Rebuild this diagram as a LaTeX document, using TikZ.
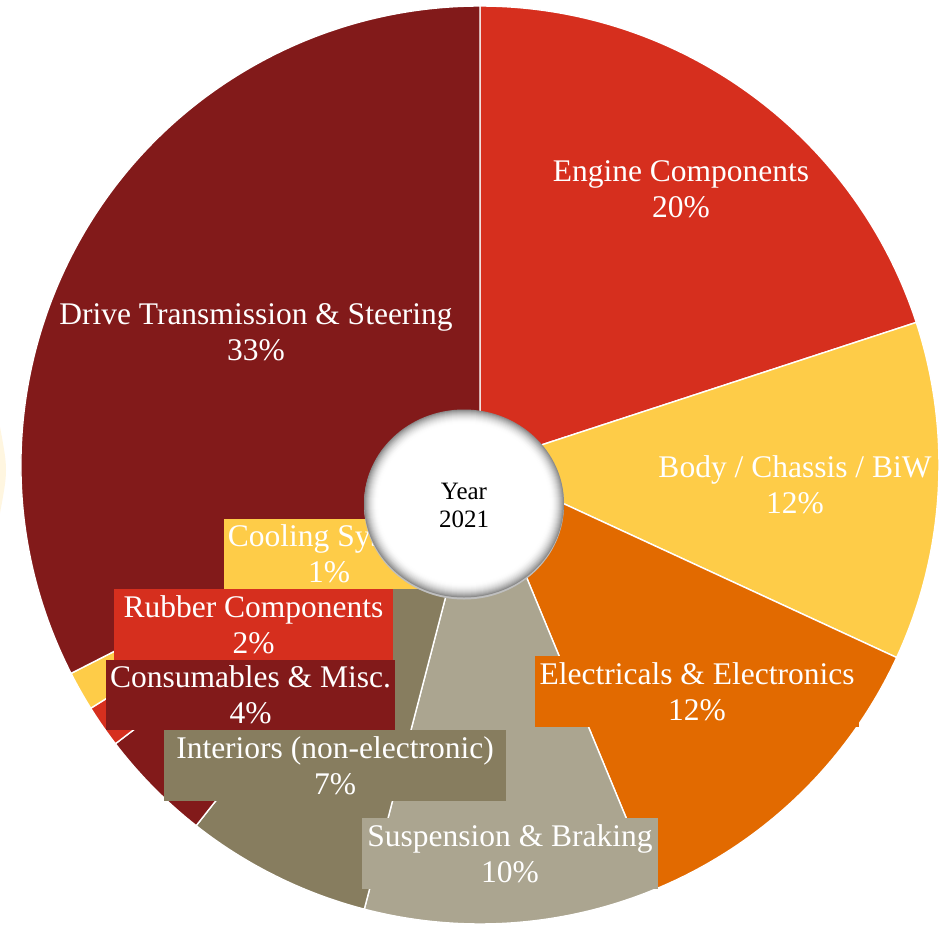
\documentclass[tikz,border=0pt]{standalone}
\usepackage{fontspec}
\setmainfont{Liberation Serif}
\usetikzlibrary{calc}
\definecolor{cDrive}{HTML}{821A1A}
\definecolor{cEngine}{HTML}{D62F1E}
\definecolor{cYellow}{HTML}{FECC48}
\definecolor{cOrange}{HTML}{E26A00}
\definecolor{cSusp}{HTML}{ABA590}
\definecolor{cInter}{HTML}{877D5F}
\definecolor{cCream}{HTML}{FFF6E0}
\newcommand\mkslice[3]{\filldraw[slice, fill=#1] (C) -- ($(C)+(#2:\R)$) arc[start angle=#2, end angle=#3, radius=\R] -- cycle;}
\tikzset{
  slice/.style={draw=white, line width=1.4pt, line join=round},
  lbl/.style={text=white, align=center, font=\fontsize{31.5}{36}\selectfont, inner sep=0pt},
  boxlbl/.style={lbl, minimum height=71pt}
}
\begin{document}
\begin{tikzpicture}[x=1pt,y=-1pt]
\path[use as bounding box, fill=white] (0,0) rectangle (947,924);
\coordinate (C) at (480,465);
\def\R{459}
% faint shape at the left edge
\fill[cCream] (0,427) .. controls (8,470) .. (0,513) -- cycle;
% slices (angles in flipped coordinates)
\mkslice{cEngine}{-90}{-18.1}
\mkslice{cYellow}{-18.1}{24.8}
\mkslice{cOrange}{24.8}{67.5}
\mkslice{cSusp}{67.5}{104.6}
\mkslice{cInter}{104.6}{128.2}
\mkslice{cDrive}{128.2}{142.6}
\mkslice{cEngine}{142.6}{148}
\mkslice{cYellow}{148}{153}
\mkslice{cDrive}{153}{270}
% labels without boxes
\node[lbl] (engine) at (681,189) {Engine Components\\20\%};
\node[lbl] (drive) at (256,332) {Drive Transmission \& Steering\\33\%};
\node[lbl] (body) at (795,485) {Body / Chassis / BiW\\12\%};
% boxed labels
\node[boxlbl, fill=cYellow, minimum width=210pt, minimum height=70pt] (cooling) at (329,554) {Cooling System\\1\%};
\node[boxlbl, fill=cEngine, minimum width=279pt] (rubber) at (253.5,624.5) {Rubber Components\\2\%};
\node[boxlbl, fill=cDrive, minimum width=289pt, minimum height=70pt] (consum) at (250.5,695) {Consumables \& Misc.\\4\%};
\node[boxlbl, fill=cInter, minimum width=342pt] (inter) at (335,765.3) {Interiors (non-electronic)\\7\%};
\node[boxlbl, fill=cSusp, minimum width=296pt] (susp) at (510,853.5) {Suspension \& Braking\\10\%};
\node[boxlbl, fill=cOrange, minimum width=324pt] (elec) at (697,691.5) {Electricals \& Electronics\\12\%};
% centre disc
\coordinate (D) at (464,503.5);
\fill[black!25] ($(D)+(0,1.5)$) ellipse[x radius=100, y radius=94.5];
\foreach \i in {0,...,14}{
  \pgfmathsetmacro\p{45*(1-\i/14)^2}
  \pgfmathsetmacro\rx{100-\i}
  \pgfmathsetmacro\ry{94-\i}
  \fill[black!\p] (D) ellipse[x radius=\rx, y radius=\ry];
}
\node[align=center, inner sep=0pt, font=\fontsize{25}{28}\selectfont] (year) at (464,505) {Year\\2021};
\end{tikzpicture}
\end{document}
